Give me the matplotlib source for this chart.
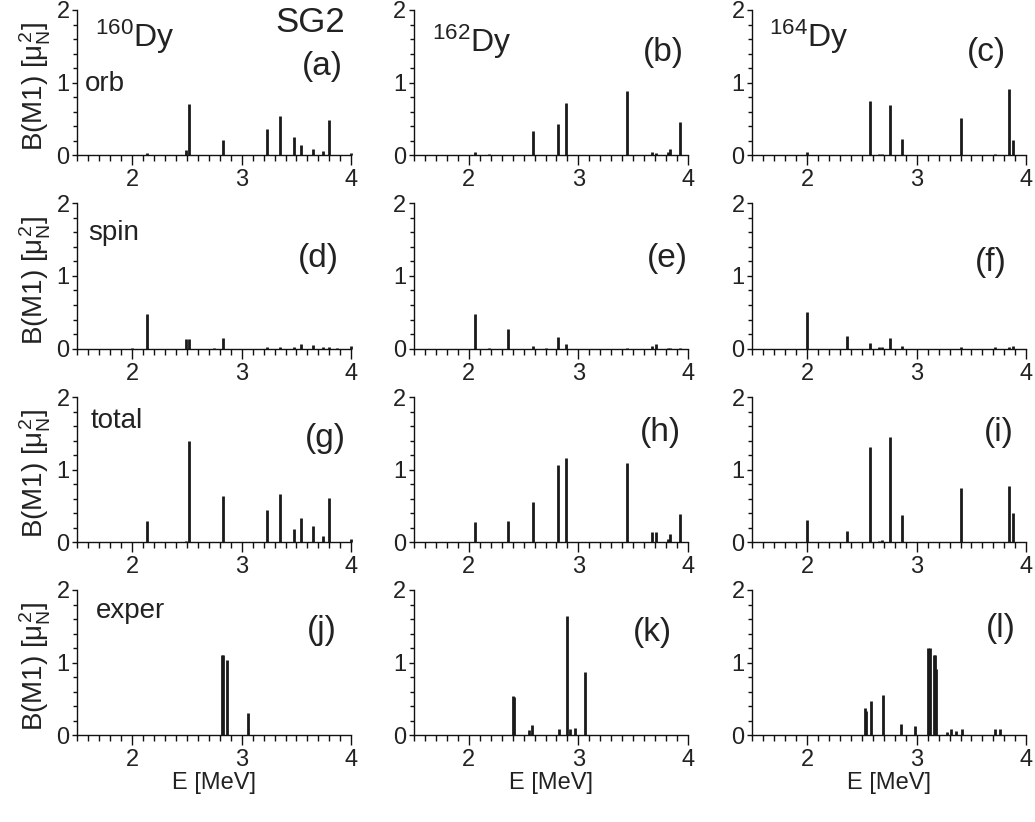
import matplotlib
matplotlib.use('Agg')
import matplotlib.pyplot as plt
from matplotlib.ticker import MultipleLocator, FixedLocator

plt.rcParams['font.family'] = ['Liberation Sans', 'DejaVu Sans']
plt.rcParams['mathtext.fontset'] = 'custom'
plt.rcParams['mathtext.rm'] = 'Liberation Sans'
plt.rcParams['mathtext.it'] = 'Liberation Sans'
plt.rcParams['mathtext.bf'] = 'Liberation Sans:bold'

# ---------------- data ----------------
nuclei = ['160', '162', '164']
row_names = ['orb', 'spin', 'total', 'exper']
panel_letters = [['(a)', '(b)', '(c)'], ['(d)', '(e)', '(f)'],
                 ['(g)', '(h)', '(i)'], ['(j)', '(k)', '(l)']]

E_160 = [2.00, 2.134, 2.49, 2.52, 2.75, 2.83, 3.23, 3.35, 3.48, 3.54, 3.65, 3.74, 3.80, 3.87, 4.00]
orb_160 = [0.01, 0.037, 0.07, 0.70, 0.01, 0.21, 0.36, 0.54, 0.25, 0.14, 0.09, 0.06, 0.49, 0.01, 0.03]
spin_160 = [0.005, 0.47, 0.13, 0.13, 0.01, 0.14, 0.02, 0.02, 0.02, 0.065, 0.05, 0.02, 0.02, 0.01, 0.03]
total_160 = [0.01, 0.30, 0.02, 1.39, 0.01, 0.64, 0.45, 0.66, 0.18, 0.34, 0.23, 0.09, 0.61, 0.01, 0.04]

E_162 = [2.06, 2.18, 2.36, 2.59, 2.70, 2.81, 2.89, 3.44, 3.67, 3.71, 3.82, 3.84, 3.93]
orb_162 = [0.045, 0.02, 0.01, 0.34, 0.01, 0.43, 0.72, 0.88, 0.05, 0.03, 0.04, 0.09, 0.46]
spin_162 = [0.48, 0.01, 0.27, 0.035, 0.01, 0.16, 0.065, 0.015, 0.04, 0.07, 0.01, 0.01, 0.01]
total_162 = [0.285, 0.01, 0.29, 0.55, 0.01, 1.06, 1.16, 1.09, 0.14, 0.14, 0.04, 0.11, 0.39]

E_164 = [2.00, 2.36, 2.57, 2.66, 2.68, 2.76, 2.87, 3.40, 3.71, 3.84, 3.88]
orb_164 = [0.045, 0.01, 0.75, 0.02, 0.02, 0.69, 0.23, 0.52, 0.02, 0.91, 0.21]
spin_164 = [0.51, 0.18, 0.08, 0.02, 0.02, 0.15, 0.03, 0.02, 0.02, 0.02, 0.04]
total_164 = [0.31, 0.16, 1.31, 0.02, 0.03, 1.45, 0.38, 0.75, 0.01, 0.77, 0.40]

Eexp_160 = [2.817, 2.826, 2.863, 3.06]
exp_160 = [1.10, 1.10, 1.04, 0.31]
Eexp_162 = [2.40, 2.41, 2.545, 2.58, 2.82, 2.90, 2.92, 2.967, 3.06]
exp_162 = [0.54, 0.53, 0.07, 0.14, 0.08, 1.64, 0.09, 0.105, 0.87]
Eexp_164 = [2.527, 2.54, 2.58, 2.69, 2.86, 2.985, 3.105, 3.118, 3.154, 3.167, 3.18,
            3.276, 3.312, 3.36, 3.41, 3.71, 3.76]
exp_164 = [0.37, 0.33, 0.47, 0.55, 0.16, 0.13, 1.20, 1.20, 1.10, 1.10, 0.91,
           0.04, 0.08, 0.06, 0.09, 0.08, 0.08]

x_ticks = [2, 3, 4]
y_ticks = [0, 1, 2]

grid = [
    [(E_160, orb_160), (E_162, orb_162), (E_164, orb_164)],
    [(E_160, spin_160), (E_162, spin_162), (E_164, spin_164)],
    [(E_160, total_160), (E_162, total_162), (E_164, total_164)],
    [(Eexp_160, exp_160), (Eexp_162, exp_162), (Eexp_164, exp_164)],
]

# ---------------- layout ----------------
W, H = 1035, 822
fig = plt.figure(figsize=(W / 100, H / 100), dpi=100)
col_left = [77.3, 414.0, 752.3]
row_top = [10.0, 203.3, 397.0, 590.0]
aw, ah = 274.0, 145.3
txt = '#222222'

def fx(px):
    return px / W

def fy(py):
    return 1 - py / H

letter_pos = [[(322, 66), (663, 53), (986, 53)],
              [(318, 258), (667, 258), (991, 262)],
              [(325, 438), (660, 432), (999, 432)],
              [(322, 630), (652, 632), (1001, 628)]]
row_label_pos = [(85, 90.7), (88, 240), (91, 427.7), (96, 618)]
nuc_pos = [(95, 46.7), (432, 52), (769, 47)]

for r in range(4):
    for c in range(3):
        ax = fig.add_axes([fx(col_left[c]), fy(row_top[r] + ah), aw / W, ah / H])
        E, B = grid[r][c]
        ax.vlines(E, 0, B, colors='#1a1a1a', linewidth=2.0, clip_on=False)
        ax.set_xlim(1.5, 4.0)
        ax.set_ylim(0, 2)
        for s in ['top', 'right']:
            ax.spines[s].set_visible(False)
        for s in ['left', 'bottom']:
            ax.spines[s].set_linewidth(1.0)
            ax.spines[s].set_color('#111111')
        ax.xaxis.set_major_locator(FixedLocator(x_ticks))
        ax.xaxis.set_minor_locator(MultipleLocator(0.1))
        ax.yaxis.set_major_locator(FixedLocator(y_ticks))
        ax.yaxis.set_minor_locator(MultipleLocator(0.2))
        ax.tick_params(axis='x', which='major', direction='out', length=7.2, width=1.0,
                       labelsize=17, pad=3, colors='#111111', labelcolor=txt)
        ax.tick_params(axis='x', which='minor', direction='out', length=4.0, width=1.0,
                       colors='#111111')
        ax.tick_params(axis='y', which='major', direction='out', length=3.5, width=1.0,
                       labelsize=17, pad=2, colors='#111111', labelcolor=txt)
        ax.tick_params(axis='y', which='minor', direction='out', length=3.0, width=1.0,
                       colors='#111111')
        ax.set_yticklabels([str(v) for v in y_ticks])
        ax.set_xticklabels([str(v) for v in x_ticks])
        lx, ly = letter_pos[r][c]
        fig.text(fx(lx), fy(ly), panel_letters[r][c], fontsize=24, ha='center',
                 va='center', color=txt)
        if c == 0:
            fig.text(fx(35), fy(row_top[r] + ah / 2 + 4), r'B(M1) [$\mu_N^2$]', fontsize=20,
                     rotation=90, ha='center', va='center', color=txt)
            px, py = row_label_pos[r]
            fig.text(fx(px), fy(py), row_names[r], fontsize=20, ha='left',
                     va='baseline', color=txt)
        if r == 3:
            fig.text(fx(col_left[c] + aw / 2), fy(783), 'E [MeV]', fontsize=17,
                     ha='center', va='center', color=txt)

for c in range(3):
    px, py = nuc_pos[c]
    fig.text(fx(px), fy(py), r'$^{\mathregular{%s}}$Dy' % nuclei[c], fontsize=23,
             ha='left', va='baseline', color=txt)

fig.text(fx(345), fy(31.7), 'SG2', fontsize=25, ha='right', va='baseline', color=txt)

fig.savefig('out.png', dpi=100)
